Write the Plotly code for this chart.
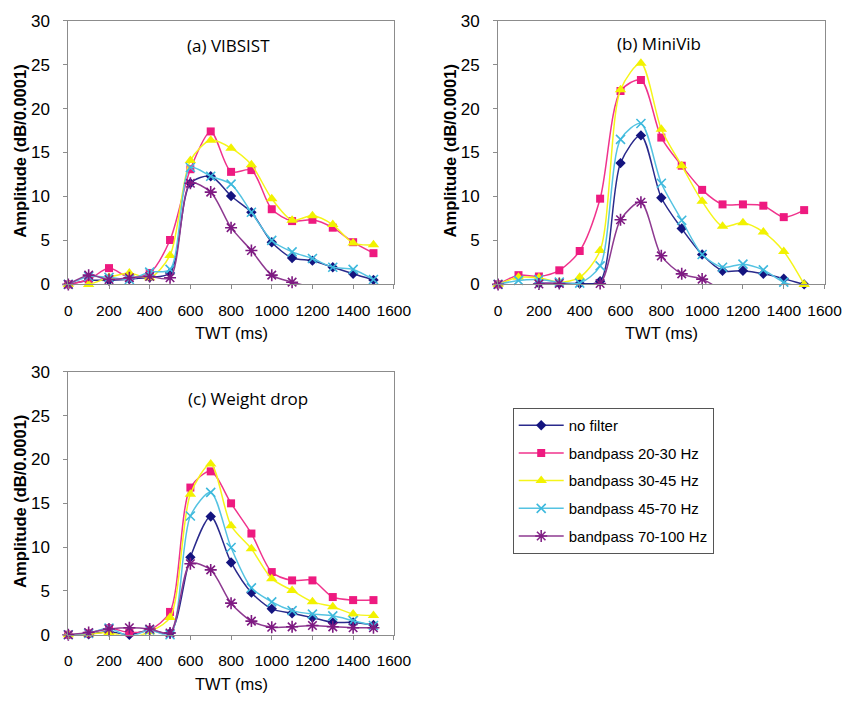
import plotly.graph_objects as go

twt = [0, 100, 200, 300, 400, 500, 600, 700, 800, 900, 1000, 1100, 1200, 1300, 1400, 1500]

series_names = ["no filter", "bandpass 20-30 Hz", "bandpass 30-45 Hz",
                "bandpass 45-70 Hz", "bandpass 70-100 Hz"]

# (a) VIBSIST
a_nofilter = [0, 0.45, 0.45, 0.6, 0.8, 1.3, 11.5, 12.3, 10.05, 8.2, 4.8, 3.0, 2.7, 1.95, 1.2, 0.5]
a_bp2030 = [0, 0.55, 1.85, 0.8, 1.3, 5.05, 13.1, 17.4, 12.8, 13.0, 8.55, 7.2, 7.35, 6.45, 4.8, 3.55]
a_bp3045 = [0, 0.0, 0.8, 1.3, 0.75, 3.3, 14.1, 16.4, 15.5, 13.6, 9.75, 7.3, 7.8, 6.8, 4.7, 4.5]
a_bp4570 = [0, 0.9, 0.8, 0.55, 1.4, 1.7, 13.3, 12.3, 11.4, 8.2, 5.0, 3.7, 2.95, 1.95, 1.7, 0.55]
a_bp70100 = [0, 1.05, 0.55, 0.75, 0.9, 0.75, 11.5, 10.5, 6.45, 3.85, 1.05, 0.25, -0.3, None, None, None]

# (b) MiniVib
b_nofilter = [0, -0.4, 0.1, 0.1, 0.1, 0.35, 13.8, 16.95, 9.85, 6.35, 3.4, 1.55, 1.55, 1.2, 0.65, 0.0]
b_bp2030 = [0, 1.05, 0.9, 1.6, 3.8, 9.75, 22.0, 23.25, 16.7, 13.5, 10.75, 9.1, 9.1, 8.95, 7.65, 8.45]
b_bp3045 = [0, 0.8, 0.75, 0.25, 0.8, 3.85, 22.15, 25.15, 17.65, 13.5, 9.45, 6.6, 7.0, 5.95, 3.75, 0.0]
b_bp4570 = [0, 0.45, 0.55, 0.25, 0.15, 2.1, 16.5, 18.3, 11.5, 7.3, 3.4, 1.95, 2.3, 1.65, 0.25, -0.4]
b_bp70100 = [0, -0.7, 0.05, 0.1, -0.1, 0.1, 7.35, 9.35, 3.25, 1.2, 0.6, -0.6, -0.8, -0.6, -0.2, None]

# (c) Weight drop
c_nofilter = [0, 0.05, 0.35, 0.0, 0.55, 0.2, 8.85, 13.5, 8.25, 4.8, 2.95, 2.45, 1.95, 1.4, 1.4, 1.1]
c_bp2030 = [0, 0.15, 0.75, 0.25, 0.55, 2.6, 16.8, 18.65, 15.0, 11.55, 7.15, 6.2, 6.2, 4.3, 3.95, 3.95]
c_bp3045 = [0, 0.05, 0.25, -0.3, 0.35, 1.95, 16.05, 19.5, 12.45, 9.8, 6.4, 5.05, 3.75, 3.2, 2.35, 2.2]
c_bp4570 = [0, 0.15, 0.75, -0.2, 0.55, 0.0, 13.55, 16.25, 9.95, 5.35, 3.75, 2.75, 2.35, 2.15, 1.6, 1.05]
c_bp70100 = [0, 0.25, 0.65, 0.8, 0.65, 0.2, 8.1, 7.4, 3.6, 1.55, 0.85, 0.9, 1.05, 0.9, 0.8, 0.8]

panel_titles = ["(a) VIBSIST", "(b) MiniVib", "(c) Weight drop"]
x_ticks = [0, 200, 400, 600, 800, 1000, 1200, 1400, 1600]
y_ticks = [0, 5, 10, 15, 20, 25, 30]

colors = ["#14147F", "#EE1A80", "#F2F200", "#3DB9DD", "#7E1A82"]
line_colors = ["#2A2A8C", "#F0338C", "#F5F51A", "#55C3E2", "#8E3A91"]
symbols = ["diamond", "square", "triangle-up", "x-thin", "asterisk"]
sizes = [8, 8, 10, 9, 10]

panels = [
    [a_nofilter, a_bp2030, a_bp3045, a_bp4570, a_bp70100],
    [b_nofilter, b_bp2030, b_bp3045, b_bp4570, b_bp70100],
    [c_nofilter, c_bp2030, c_bp3045, c_bp4570, c_bp70100],
]

W, H = 864, 706
FONT = "Arial"
fig = go.Figure()

axes = [("x", "y"), ("x2", "y2"), ("x3", "y3")]
for p, data in enumerate(panels):
    xref, yref = axes[p]
    for i, ys in enumerate(data):
        op = [0 if (v is not None and v < 0) else 1 for v in ys]
        open_sym = symbols[i] in ("x-thin", "asterisk")
        fig.add_trace(go.Scatter(
            x=twt, y=ys, xaxis=xref, yaxis=yref,
            mode="lines+markers",
            name=series_names[i],
            legendgroup=series_names[i],
            showlegend=(p == 0),
            cliponaxis=False,
            line=dict(color=line_colors[i], width=1.5, shape="spline", smoothing=0.8),
            marker=dict(symbol=symbols[i], size=sizes[i], color=colors[i], opacity=op,
                        line=dict(color=colors[i], width=1.6 if open_sym else 0)),
            connectgaps=False,
        ))

def px(x):
    return x / W

def py(y):
    return 1 - y / H

dom_x = [[px(66), px(400)], [px(507), px(842)], [px(66), px(400)]]
dom_y = [[py(283), py(12)], [py(283), py(12)], [py(643), py(373)]]

axis_common = dict(showline=True, linecolor="#8C8C8C", linewidth=1, mirror=True,
                   ticks="outside", ticklen=4, tickcolor="#8C8C8C", showgrid=False,
                   zeroline=False)

layout = dict(
    width=W, height=H,
    margin=dict(l=0, r=0, t=0, b=0),
    paper_bgcolor="white", plot_bgcolor="white",
    showlegend=True,
    legend=dict(x=px(522), y=py(410), xanchor="left", yanchor="top",
                bordercolor="#555555", borderwidth=1, bgcolor="white",
                font=dict(family=FONT, size=15, color="#000"),
                tracegroupgap=5.2, itemwidth=45),
)
for p in range(3):
    sx = "" if p == 0 else str(p + 1)
    layout["xaxis" + sx] = dict(axis_common, domain=dom_x[p], range=[0, 1600],
                                tickvals=x_ticks, ticktext=[str(t) for t in x_ticks],
                                tickfont=dict(family=FONT, size=15.5, color="#000"),
                                anchor="y" + sx, ticklabelstandoff=8)
    layout["yaxis" + sx] = dict(axis_common, domain=dom_y[p], range=[0, 30],
                                tickvals=y_ticks, ticktext=[str(t) for t in y_ticks],
                                tickfont=dict(family=FONT, size=17, color="#000"),
                                anchor="x" + sx, ticklabelstandoff=10)
fig.update_layout(**layout)

annots = []
title_pos = [(230, 38), (672, 35), (250, 400)]
twt_pos = [(233, 333), (674.5, 333), (233, 694)]
amp_pos = [(17, 146), (458, 146), (17, 506)]
for p in range(3):
    annots.append(dict(text=panel_titles[p], x=px(title_pos[p][0]), y=py(title_pos[p][1]),
                       xref="paper", yref="paper", showarrow=False, xanchor="center", yanchor="middle",
                       font=dict(family="Open Sans", size=17, color="#000")))
    annots.append(dict(text="TWT (ms)", x=px(twt_pos[p][0]), y=py(twt_pos[p][1]),
                       xref="paper", yref="paper", showarrow=False, xanchor="center", yanchor="middle",
                       font=dict(family=FONT, size=16.5, color="#000")))
    annots.append(dict(text="<b>Amplitude (dB/0.0001)</b>", x=px(amp_pos[p][0]), y=py(amp_pos[p][1]),
                       xref="paper", yref="paper", showarrow=False, xanchor="center", yanchor="middle",
                       textangle=-90,
                       font=dict(family=FONT, size=16.5, color="#000")))
fig.update_layout(annotations=annots)

fig.write_html("out.html", config={"displayModeBar": False},
               post_script="document.body.style.margin='0';document.body.style.overflow='hidden';")
